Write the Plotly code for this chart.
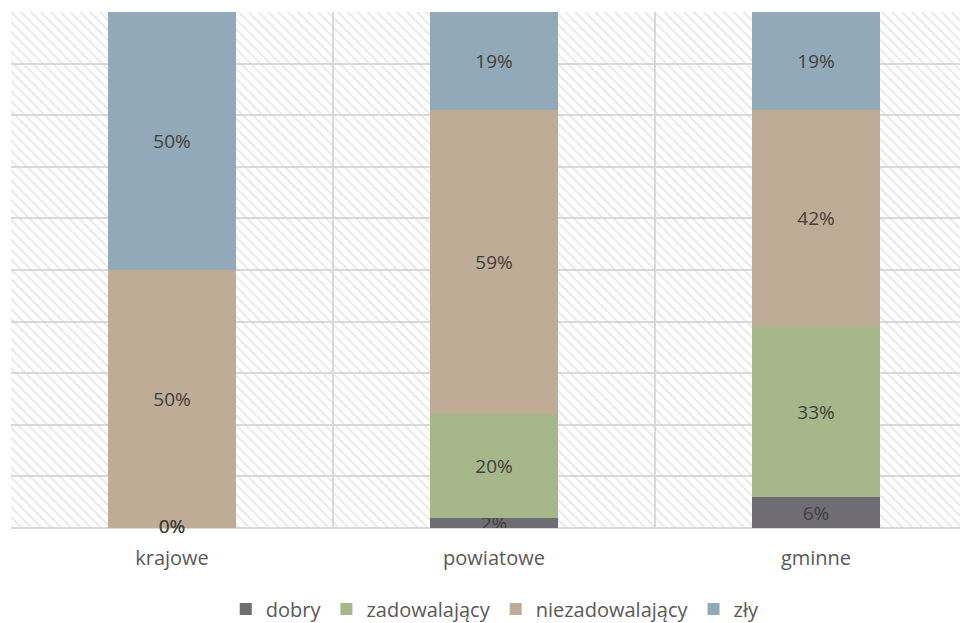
import plotly.graph_objects as go

categories = ["krajowe", "powiatowe", "gminne"]
series_names = ["dobry", "zadowalający", "niezadowalający", "zły"]
dobry = [0, 2, 6]
zadowalajacy = [0, 20, 33]
niezadowalajacy = [50, 59, 42]
zly = [50, 19, 19]
colors = ["#6F6D73", "#A6B78A", "#BEAC97", "#92A9B9"]

values = [dobry, zadowalajacy, niezadowalajacy, zly]

fig = go.Figure()

# hatched background on base axes
fig.add_trace(go.Bar(
    x=categories, y=[100] * len(categories), width=1,
    marker=dict(color="rgba(0,0,0,0)", line=dict(width=0),
                pattern=dict(shape="\\", fgcolor="#D4D4D4", bgcolor="rgba(0,0,0,0)",
                             size=7, solidity=0.3)),
    showlegend=False, hoverinfo="skip", xaxis="x", yaxis="y",
))

zero_x, zero_y = [], []
for name, vals, col in zip(series_names, values, colors):
    fig.add_trace(go.Bar(
        name=name, x=categories, y=vals, width=0.4,
        marker=dict(color=col, line=dict(width=0)),
        text=[f"{v}%" if v else "" for v in vals], textposition="inside",
        insidetextanchor="middle",
        textfont=dict(family="Open Sans", size=19, color="#404040"),
        xaxis="x2", yaxis="y2",
    ))
# labels of zero-height segments (drawn at their stack base)
base = [0] * len(categories)
for vals in values:
    for i, v in enumerate(vals):
        if v == 0:
            zero_x.append(categories[i])
            zero_y.append(base[i])
    base = [b + v for b, v in zip(base, vals)]
fig.add_trace(go.Scatter(
    x=zero_x, y=zero_y, mode="text", text=["0%"] * len(zero_x),
    textposition="middle center", cliponaxis=False,
    textfont=dict(family="Open Sans", size=19, color="#404040"),
    showlegend=False, hoverinfo="skip", xaxis="x2", yaxis="y2",
))

xrange = [-0.5, 2.472]
fig.update_layout(
    width=960, height=623,
    barmode="stack",
    paper_bgcolor="white", plot_bgcolor="white",
    margin=dict(l=3, r=0, t=4, b=103),
    font=dict(family="Open Sans", size=19, color="#595959"),
    uniformtext=dict(minsize=19, mode="show"),
    xaxis=dict(type="category", range=xrange, tickson="boundaries",
               showgrid=True, gridcolor="#D9D9D9", gridwidth=2,
               showline=False, ticks="", ticklabelstandoff=16,
               showticklabels=True,
               tickfont=dict(size=20, color="#595959")),
    yaxis=dict(range=[0, 100], dtick=10, showgrid=True, gridcolor="#D9D9D9",
               gridwidth=2, showticklabels=False, zeroline=True,
               zerolinecolor="#D9D9D9", zerolinewidth=2),
    xaxis2=dict(type="category", range=xrange, overlaying="x",
                showgrid=False, showticklabels=False, visible=False),
    yaxis2=dict(range=[0, 100], overlaying="y", showgrid=False,
                showticklabels=False, visible=False),
    legend=dict(orientation="h", x=0.506, xanchor="center", y=-0.119, yanchor="top",
                font=dict(size=20, color="#595959"), traceorder="normal",
                itemwidth=30),
)

fig.write_html("out.html")
